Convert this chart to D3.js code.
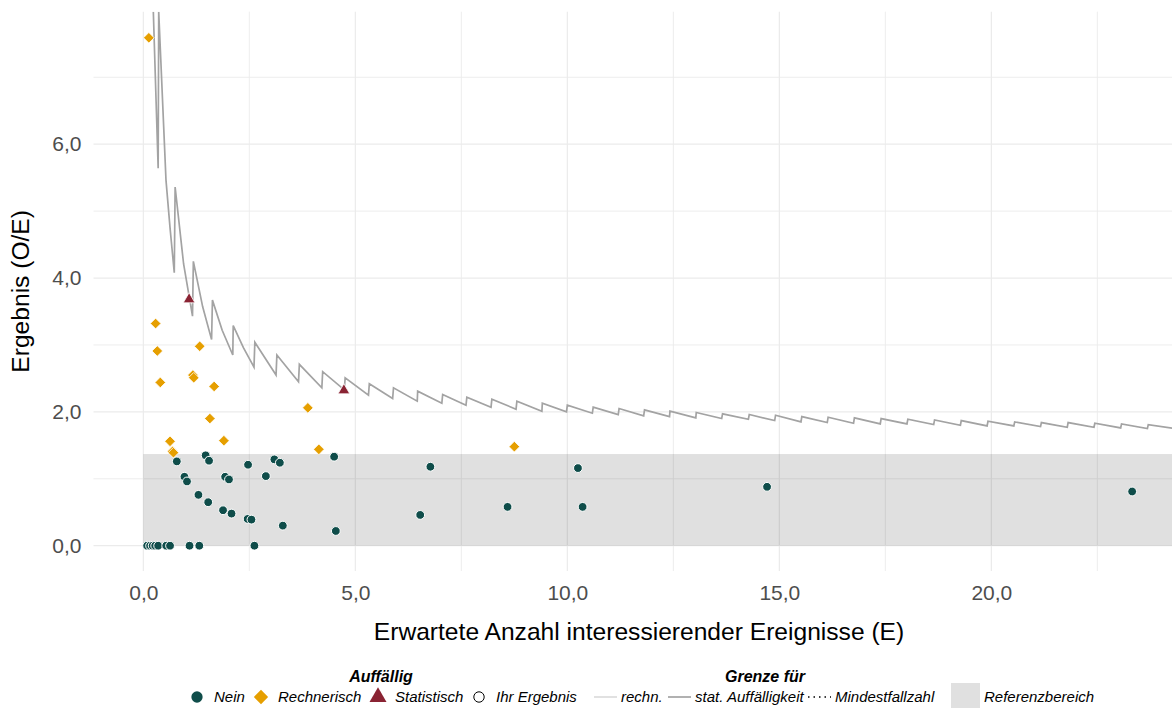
<!DOCTYPE html>
<html>
<head>
<meta charset="utf-8">
<script src="https://cdn.jsdelivr.net/npm/d3@7"></script>
<style>
  body { margin: 0; background: #fff; }
  svg { font-family: "Liberation Sans", Arial, sans-serif; }
</style>
</head>
<body>
<div id="container"></div>
<script>
// Points: [E, O/E]
const nein = [
  [0.09, 0], [0.16, 0], [0.22, 0], [0.28, 0], [0.35, 0], [0.54, 0], [0.63, 0],
  [1.09, 0], [1.32, 0], [2.62, 0],
  [0.79, 1.26], [1.47, 1.35], [1.55, 1.27], [0.97, 1.03], [1.03, 0.96],
  [1.30, 0.76], [1.53, 0.65], [1.88, 0.53], [2.08, 0.48], [1.93, 1.03],
  [2.02, 0.99], [2.47, 1.21], [2.46, 0.40], [2.55, 0.39], [3.09, 1.29],
  [3.22, 1.24], [2.89, 1.04], [3.29, 0.30], [4.50, 1.33], [4.54, 0.22],
  [6.77, 1.18], [6.53, 0.46], [8.59, 0.58], [10.25, 1.16], [10.36, 0.58],
  [14.71, 0.88], [23.32, 0.81]
];
const rechnerisch = [
  [0.13, 7.59], [0.29, 3.32], [0.33, 2.91], [1.33, 2.98], [0.40, 2.44],
  [1.17, 2.55], [1.19, 2.51], [1.67, 2.38], [1.57, 1.90], [0.63, 1.56],
  [0.69, 1.41], [0.71, 1.39], [1.90, 1.57], [3.88, 2.06], [4.14, 1.44],
  [8.75, 1.48]
];
const statistisch = [[1.08, 3.68], [4.73, 2.32]];

// Grenze stat. Auffälligkeit (sawtooth), vertices
const grenzeE = [0.236, 0.35, 0.363, 0.535, 0.63, 0.73, 0.75, 0.95, 1.16, 1.18, 1.40, 1.61,
  1.63, 1.86, 2.11, 2.12, 2.36, 2.61, 2.63, 3.13, 3.15, 3.66, 3.68, 4.21, 4.23, 4.74,
  4.76, 5.31, 5.33, 5.88, 5.90, 6.46, 6.47, 7.04, 7.06, 7.61, 7.63, 8.20, 8.22,
  8.79, 8.81, 9.40, 9.41, 9.98, 10.00, 10.59, 10.61, 11.20, 11.22, 11.80, 11.82,
  12.41, 12.42, 13.03, 13.04, 13.64, 13.66, 14.27, 14.29, 14.89, 14.91, 15.51, 15.53,
  16.13, 16.15, 16.75, 16.77, 17.38, 17.40, 18.01, 18.03, 18.64, 18.66, 19.27, 19.29,
  19.90, 19.92, 20.53, 20.55, 21.16, 21.18, 21.79, 21.81, 22.42, 22.44, 23.05, 23.07,
  23.68, 23.70, 24.30];
const grenzeV = [7.98, 5.64, 7.98, 5.46, 4.75, 4.08, 5.36, 4.21, 3.43, 4.25, 3.57, 3.08,
  3.67, 3.22, 2.85, 3.29, 2.96, 2.67, 3.04, 2.55, 2.85, 2.45, 2.71, 2.36, 2.60, 2.33,
  2.51, 2.25, 2.42, 2.20, 2.36, 2.16, 2.31, 2.13, 2.26, 2.10, 2.22, 2.07, 2.19,
  2.04, 2.16, 2.01, 2.13, 2.00, 2.10, 1.98, 2.07, 1.96, 2.05, 1.94, 2.03,
  1.93, 2.01, 1.91, 1.99, 1.90, 1.97, 1.89, 1.96, 1.87, 1.95, 1.85, 1.93,
  1.84, 1.92, 1.83, 1.91, 1.82, 1.90, 1.82, 1.89, 1.81, 1.88, 1.80, 1.87,
  1.79, 1.86, 1.79, 1.85, 1.78, 1.84, 1.77, 1.84, 1.77, 1.83, 1.76, 1.82,
  1.75, 1.81, 1.755];

const referenzbereich = [0, 1.37];
const xTicks = [0, 5, 10, 15, 20];
const xMinor = [2.5, 7.5, 12.5, 17.5, 22.5];
const yTicks = [0, 2, 4, 6];
const yMinor = [1, 3, 5, 7];

const colNein = "#0f4d4a", colRech = "#e69f00", colStat = "#8a2333";

const width = 1172, height = 708;
const panel = {left: 93.5, right: 1172, top: 11.7, bottom: 571};

const de = d3.formatLocale({decimal: ",", thousands: ".", grouping: [3], currency: ["", " €"]});
const fmt = de.format(".1f");

const svg = d3.select("#container").append("svg")
    .attr("width", width)
    .attr("height", height);

const x = d3.scaleLinear().domain([-1.175, 24.26]).range([panel.left, panel.right]);
const y = d3.scaleLinear().domain([-0.378, 7.98]).range([panel.bottom, panel.top]);

svg.append("clipPath").attr("id", "clip")
  .append("rect")
    .attr("x", panel.left).attr("y", panel.top)
    .attr("width", panel.right - panel.left).attr("height", panel.bottom - panel.top);

// Grid
const grid = svg.append("g").attr("stroke", "#ebebeb").attr("fill", "none");
grid.selectAll(".vx").data(xTicks.concat(xMinor)).enter().append("line")
    .attr("x1", d => x(d)).attr("x2", d => x(d))
    .attr("y1", panel.top).attr("y2", panel.bottom)
    .attr("stroke-width", d => xTicks.includes(d) ? 1.2 : 0.9);
grid.selectAll(".hy").data(yTicks.concat(yMinor)).enter().append("line")
    .attr("x1", panel.left).attr("x2", panel.right)
    .attr("y1", d => y(d)).attr("y2", d => y(d))
    .attr("stroke-width", d => yTicks.includes(d) ? 1.2 : 0.9);

// Referenzbereich
svg.append("rect")
    .attr("x", x(0))
    .attr("y", y(referenzbereich[1]))
    .attr("width", panel.right - x(0))
    .attr("height", y(referenzbereich[0]) - y(referenzbereich[1]))
    .attr("fill", "#000")
    .attr("fill-opacity", 0.122);

// Grenze line
const line = d3.line()
    .x(d => x(d[0]))
    .y(d => y(d[1]));
svg.append("path")
    .datum(grenzeE.map((e, i) => [e, grenzeV[i]]))
    .attr("clip-path", "url(#clip)")
    .attr("d", line)
    .attr("fill", "none")
    .attr("stroke", "#a3a3a3")
    .attr("stroke-width", 1.7);

// Points
const pts = svg.append("g").attr("clip-path", "url(#clip)");
pts.selectAll(".nein").data(nein).enter().append("circle")
    .attr("cx", d => x(d[0])).attr("cy", d => y(d[1]))
    .attr("r", 4.4)
    .attr("fill", colNein).attr("stroke", "#fff").attr("stroke-width", 1);
pts.selectAll(".rech").data(rechnerisch).enter().append("path")
    .attr("transform", d => `translate(${x(d[0])},${y(d[1])})`)
    .attr("d", d3.symbol(d3.symbolDiamond2, 72))
    .attr("fill", colRech).attr("stroke", "#fff").attr("stroke-width", 0.8);
pts.selectAll(".stat").data(statistisch).enter().append("path")
    .attr("transform", d => `translate(${x(d[0])},${y(d[1])})`)
    .attr("d", d3.symbol(d3.symbolTriangle, 60))
    .attr("fill", colStat).attr("stroke", "#fff").attr("stroke-width", 0.8);

// Axes
const xAxis = svg.append("g")
    .attr("transform", `translate(0,${panel.bottom})`)
    .call(d3.axisBottom(x).tickValues(xTicks).tickFormat(fmt).tickSize(0).tickPadding(14));
const yAxis = svg.append("g")
    .attr("transform", `translate(${panel.left},0)`)
    .call(d3.axisLeft(y).tickValues(yTicks).tickFormat(fmt).tickSize(0).tickPadding(12));
[xAxis, yAxis].forEach(a => {
  a.select(".domain").remove();
  a.selectAll("text")
    .style("font-family", "Liberation Sans, Arial, sans-serif")
    .style("font-size", "21px")
    .attr("fill", "#4d4d4d");
});

svg.append("text")
    .attr("x", 639)
    .attr("y", 640)
    .attr("text-anchor", "middle")
    .style("font-size", "24.6px")
    .text("Erwartete Anzahl interessierender Ereignisse (E)");

svg.append("text")
    .attr("transform", `translate(29,${(panel.top + panel.bottom) / 2}) rotate(-90)`)
    .attr("text-anchor", "middle")
    .style("font-size", "24.6px")
    .text("Ergebnis (O/E)");

// Legend
const leg = svg.append("g").style("font-size", "15px").style("font-style", "italic");
const ly = 697;
leg.append("text").attr("x", 381).attr("y", 682).attr("text-anchor", "middle")
    .style("font-weight", "bold").style("font-size", "16px").text("Auffällig");
leg.append("text").attr("x", 765).attr("y", 682).attr("text-anchor", "middle")
    .style("font-weight", "bold").style("font-size", "16px").text("Grenze für");

const shapeItems = [
  {label: "Nein", x: 197, sym: d3.symbolCircle, size: 100, fill: colNein, stroke: "none"},
  {label: "Rechnerisch", x: 261, sym: d3.symbolDiamond2, size: 130, fill: colRech, stroke: "none"},
  {label: "Statistisch", x: 378, sym: d3.symbolTriangle, size: 125, fill: colStat, stroke: "none"},
  {label: "Ihr Ergebnis", x: 479, sym: d3.symbolCircle, size: 85, fill: "#fff", stroke: "#000"}
];
shapeItems.forEach(it => {
  leg.append("path")
    .attr("transform", `translate(${it.x},${ly})`)
    .attr("d", d3.symbol(it.sym, it.size))
    .attr("fill", it.fill).attr("stroke", it.stroke).attr("stroke-width", 1);
  leg.append("text").attr("x", it.x + 17).attr("y", ly + 5).text(it.label);
});

const lineItems = [
  {label: "rechn.", x: 594, stroke: "#dcdcdc", dash: null},
  {label: "stat. Auffälligkeit", x: 668, stroke: "#a3a3a3", dash: null},
  {label: "Mindestfallzahl", x: 808, stroke: "#000", dash: "1.5,4"}
];
lineItems.forEach(it => {
  leg.append("line")
    .attr("x1", it.x).attr("x2", it.x + 23)
    .attr("y1", ly).attr("y2", ly)
    .attr("stroke", it.stroke).attr("stroke-width", 1.7)
    .attr("stroke-dasharray", it.dash);
  leg.append("text").attr("x", it.x + 27).attr("y", ly + 5).text(it.label);
});
leg.append("rect").attr("x", 951).attr("y", 683).attr("width", 29).attr("height", 28)
    .attr("fill", "#000").attr("fill-opacity", 0.122);
leg.append("text").attr("x", 984).attr("y", ly + 5).text("Referenzbereich");
</script>
</body>
</html>
